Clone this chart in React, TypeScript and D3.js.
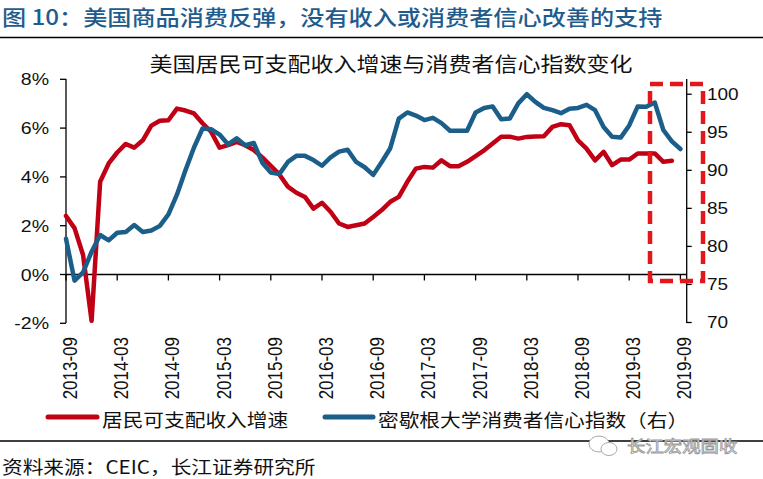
import React from "react";
import * as d3 from "d3";

// ---- data (monthly, index 0 = 2013-09) ----
const incomeGrowth: number[] = [
  2.4, 1.9, 0.8, -1.9, 3.8, 4.55, 5.0, 5.35, 5.2, 5.5,
  6.1, 6.3, 6.32, 6.8, 6.72, 6.6, 6.2, 5.85, 5.2, 5.3,
  5.43, 5.3, 5.1, 4.8, 4.45, 4.1, 3.6, 3.35, 3.18, 2.7,
  2.94, 2.57, 2.09, 1.95, 2.02, 2.09, 2.36, 2.64, 2.98, 3.18,
  3.8, 4.34, 4.41, 4.38, 4.68, 4.44, 4.44, 4.62, 4.85, 5.09,
  5.37, 5.65, 5.65, 5.57, 5.64, 5.66, 5.67, 6.05, 6.16, 6.12,
  5.5, 5.16, 4.68, 5.03, 4.48, 4.71, 4.71, 4.96, 4.96, 4.96,
  4.62, 4.66,
];
const sentiment: number[] = [
  81.0, 75.5, 76.6, 79.3, 81.5, 80.8, 81.8, 81.9, 82.8, 81.9,
  82.1, 82.7, 84.2, 86.8, 90.0, 93.0, 95.5, 95.4, 94.7, 93.4,
  94.2, 93.3, 93.6, 91.0, 89.7, 89.5, 91.1, 91.9, 91.9, 91.35,
  90.6, 91.7, 92.45, 92.7, 91.1, 90.4, 89.4, 91.1, 92.9, 96.8,
  97.6, 97.2, 96.6, 96.9, 96.2, 95.2, 95.2, 95.2, 97.6, 98.2,
  98.4, 96.7, 96.8, 98.8, 100.0, 99.0, 98.2, 97.9, 97.5, 98.1,
  98.2, 98.6, 97.9, 95.7, 94.4, 94.3, 95.9, 98.4, 98.35, 98.9,
  95.3, 93.8, 92.8,
];
const xTickLabels: string[] = [
  "2013-09", "2014-03", "2014-09", "2015-03", "2015-09", "2016-03", "2016-09",
  "2017-03", "2017-09", "2018-03", "2018-09", "2019-03", "2019-09",
];
const leftTicks: number[] = [-2, 0, 2, 4, 6, 8];
const rightTicks: number[] = [70, 75, 80, 85, 90, 95, 100];

const titleText = "图 10：美国商品消费反弹，没有收入或消费者信心改善的支持";
const chartTitle = "美国居民可支配收入增速与消费者信心指数变化";
const legendRed = "居民可支配收入增速";
const legendBlue = "密歇根大学消费者信心指数（右）";
const sourceText = "资料来源：CEIC，长江证券研究所";
const watermark = "长江宏观固收";

const W = 763;
const H = 479;
const CJK = '"Noto Sans CJK SC", "Noto Sans", sans-serif';
const LAT = '"Liberation Sans", Arial, sans-serif';
const SX = 1.15;
const RED = "#c00014";
const BLUE = "#1b5e8a";

const T = (p: {
  x: number; y: number; size: number; anchor?: string; fill?: string;
  family?: string; weight?: any; children: React.ReactNode; stroke?: string; sw?: number;
}) => (
  <text
    transform={`translate(${p.x},${p.y}) scale(${SX},1)`}
    textAnchor={p.anchor || "start"}
    dominantBaseline="central"
    fontSize={p.size}
    fontFamily={p.family || CJK}
    fontWeight={p.weight || "normal"}
    fill={p.fill || "#111"}
    stroke={p.stroke}
    strokeWidth={p.sw}
  >
    {p.children}
  </text>
);

export default function App() {
  const plotL = 66;
  const plotR = 686.7;
  const top = 79;
  const bottom = 323;
  const x = d3.scaleLinear().domain([0, 72]).range([plotL, 680.4]);
  const yL = d3.scaleLinear().domain([-2, 8]).range([323.3, 79.3]);
  const yR = d3.scaleLinear().domain([70, 102]).range([322.5, 79]);

  const redPath = d3.line<number>().x((_, i) => x(i)).y((d) => yL(d))(incomeGrowth) || "";
  const bluePath = d3.line<number>().x((_, i) => x(i)).y((d) => yR(d))(sentiment) || "";
  const y0 = yL(0);

  return (
    <svg width={W} height={H} style={{ position: "absolute", left: 0, top: 0, background: "#fff" }}>
      <rect width={W} height={H} fill="#fff" />
      {/* headline */}
      <T x={2} y={16} size={21} fill="#1f5c8e" weight={500}>{titleText}</T>
      <line x1={0} x2={W} y1={37.5} y2={37.5} stroke="#000" strokeWidth={1.5} />
      {/* chart title */}
      <T x={391} y={63.5} size={20} anchor="middle" fill="#111">{chartTitle}</T>

      {/* left axis */}
      <line x1={plotL} x2={plotL} y1={top} y2={bottom} stroke="#000" strokeWidth={1.3} />
      {leftTicks.map((t) => (
        <g key={"l" + t}>
          <line x1={plotL - 6} x2={plotL} y1={yL(t)} y2={yL(t)} stroke="#000" strokeWidth={1.3} />
          <T x={49} y={yL(t)} size={17} anchor="end" family={LAT}>{t + "%"}</T>
        </g>
      ))}
      {/* right axis */}
      <line x1={plotR} x2={plotR} y1={top} y2={bottom} stroke="#000" strokeWidth={1.3} />
      {rightTicks.map((t) => (
        <g key={"r" + t}>
          <line x1={plotR} x2={plotR + 5} y1={yR(t)} y2={yR(t)} stroke="#000" strokeWidth={1.3} />
          <T x={707} y={yR(t)} size={16.5} family={LAT}>{String(t)}</T>
        </g>
      ))}
      {/* x axis at 0% */}
      <line x1={plotL} x2={plotR} y1={y0} y2={y0} stroke="#000" strokeWidth={1.3} />
      {xTickLabels.map((lab, k) => {
        const xi = x(k * 6);
        return (
          <g key={lab}>
            <line x1={xi} x2={xi} y1={y0} y2={y0 + 6} stroke="#000" strokeWidth={1.3} />
            <text
              transform={`translate(${xi + 4},337) scale(${SX},1) rotate(-90)`}
              textAnchor="end"
              dominantBaseline="central"
              fontSize={17}
              fontFamily={LAT}
              fill="#111"
            >
              {lab}
            </text>
          </g>
        );
      })}

      {/* series */}
      <path d={redPath} fill="none" stroke={RED} strokeWidth={4.5} strokeLinejoin="round" strokeLinecap="round" />
      <path d={bluePath} fill="none" stroke={BLUE} strokeWidth={4.5} strokeLinejoin="round" strokeLinecap="round" />

      {/* red dashed highlight */}
      <rect x={650} y={84} width={53} height={197} fill="none" stroke="#e3161c" strokeWidth={4.5} strokeDasharray="13,7" />

      {/* legend */}
      <line x1={48} x2={97} y1={417} y2={417} stroke={RED} strokeWidth={5} strokeLinecap="round" />
      <T x={102} y={420} size={18}>{legendRed}</T>
      <line x1={325} x2={373} y1={417} y2={417} stroke={BLUE} strokeWidth={5} strokeLinecap="round" />
      <T x={378} y={420} size={18}>{legendBlue}</T>

      <line x1={0} x2={W} y1={441} y2={441} stroke="#000" strokeWidth={1.5} />
      {/* watermark */}
      <g stroke="#aaa" strokeWidth={1} fill="#fff">
        <ellipse cx={599} cy={444} rx={10} ry={8} />
        <ellipse cx={609} cy={449} rx={8} ry={6.5} />
      </g>
      <T x={627} y={445} size={16} fill="#fff" stroke="#999" sw={0.8}>{watermark}</T>
      {/* source */}
      <T x={2} y={466.5} size={18}>{sourceText}</T>
    </svg>
  );
}
